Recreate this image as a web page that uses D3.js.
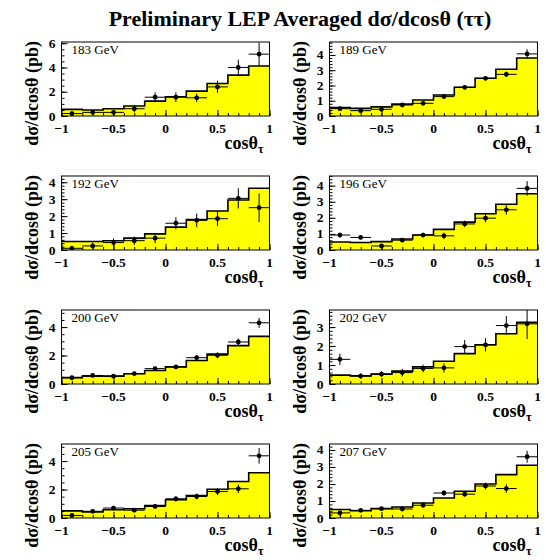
<!DOCTYPE html>
<html>
<head>
<meta charset="utf-8">
<script src="https://cdn.jsdelivr.net/npm/d3@7"></script>
<style>
  body { margin: 0; background: #fff; }
  text { font-family: "Liberation Serif", "DejaVu Serif", serif; }
</style>
</head>
<body>
<div id="chart"></div>
<script>
// bin edges of cos(theta_tau), 10 bins
const binEdges = [-1, -0.8, -0.6, -0.4, -0.2, 0, 0.2, 0.4, 0.6, 0.8, 1];
const binCenters = [-0.9, -0.7, -0.5, -0.3, -0.1, 0.1, 0.3, 0.5, 0.7, 0.9];
const xTicks = [-1, -0.5, 0, 0.5, 1];

const energies = ["183 GeV", "189 GeV", "192 GeV", "196 GeV", "200 GeV", "202 GeV", "205 GeV", "207 GeV"];
const yMax = [6.1, 4.85, 4.37, 4.6, 5.2, 3.9, 5.2, 4.35];
const yTickStep = [2, 1, 1, 1, 2, 1, 2, 1];

// SM prediction (yellow histogram)
const pred183 = [0.55, 0.5, 0.6, 0.82, 1.23, 1.59, 2.05, 2.68, 3.37, 4.12];
const pred189 = [0.55, 0.5, 0.6, 0.78, 1.05, 1.38, 1.88, 2.47, 3.06, 3.8];
const pred192 = [0.5, 0.5, 0.55, 0.7, 0.95, 1.35, 1.8, 2.3, 2.95, 3.65];
const pred196 = [0.5, 0.47, 0.52, 0.68, 0.93, 1.28, 1.73, 2.25, 2.84, 3.5];
const pred200 = [0.45, 0.55, 0.55, 0.72, 0.95, 1.2, 1.65, 2.1, 2.7, 3.35];
const pred202 = [0.47, 0.43, 0.52, 0.68, 0.9, 1.2, 1.6, 2.07, 2.65, 3.25];
const pred205 = [0.5, 0.42, 0.58, 0.65, 0.88, 1.28, 1.58, 2.02, 2.56, 3.18];
const pred207 = [0.5, 0.43, 0.55, 0.65, 0.88, 1.18, 1.57, 2.0, 2.55, 3.1];

// LEP averaged measurements
const meas183 = [0.2, 0.3, 0.3, 0.6, 1.55, 1.55, 1.5, 2.4, 4.0, 5.1];
const meas189 = [0.48, 0.35, 0.44, 0.72, 0.83, 1.27, 1.88, 2.47, 2.73, 4.07];
const meas192 = [0.1, 0.24, 0.44, 0.55, 0.7, 1.58, 1.75, 1.85, 3.05, 2.5];
const meas196 = [0.93, 0.78, 0.25, 0.61, 0.93, 0.88, 1.62, 1.98, 2.5, 3.83];
const meas200 = [0.44, 0.6, 0.55, 0.73, 1.08, 1.2, 1.85, 2.02, 2.95, 4.3];
const meas202 = [1.3, 0.42, 0.52, 0.6, 0.82, 0.85, 1.97, 2.06, 3.08, 3.17];
const meas205 = [0.18, 0.47, 0.7, 0.55, 0.81, 1.35, 1.51, 1.86, 2.05, 4.37];
const meas207 = [0.3, 0.45, 0.55, 0.53, 0.75, 1.47, 1.4, 1.88, 1.73, 3.6];

// errors on measurements
const err183 = [0.2, 0.2, 0.2, 0.3, 0.4, 0.4, 0.35, 0.5, 0.65, 0.95];
const err189 = [0.12, 0.1, 0.1, 0.12, 0.12, 0.12, 0.13, 0.15, 0.18, 0.3];
const err192 = [0.15, 0.2, 0.25, 0.25, 0.3, 0.35, 0.4, 0.45, 0.6, 0.85];
const err196 = [0.15, 0.12, 0.12, 0.12, 0.15, 0.2, 0.2, 0.25, 0.3, 0.45];
const err200 = [0.12, 0.12, 0.12, 0.12, 0.15, 0.15, 0.18, 0.2, 0.25, 0.35];
const err202 = [0.3, 0.15, 0.15, 0.2, 0.2, 0.25, 0.35, 0.35, 0.5, 0.8];
const err205 = [0.15, 0.12, 0.15, 0.15, 0.15, 0.2, 0.2, 0.25, 0.3, 0.55];
const err207 = [0.15, 0.1, 0.1, 0.12, 0.12, 0.15, 0.15, 0.2, 0.25, 0.35];

const preds = [pred183, pred189, pred192, pred196, pred200, pred202, pred205, pred207];
const meas = [meas183, meas189, meas192, meas196, meas200, meas202, meas205, meas207];
const errs = [err183, err189, err192, err196, err200, err202, err205, err207];

const W = 546, H = 560;
const colLeft = [61.5, 329.5];
const rowTop = [42, 176, 310, 444];
const pw = 208, ph = 74;

const svg = d3.select("#chart").append("svg")
  .attr("width", W).attr("height", H);

svg.append("text")
  .attr("x", 300).attr("y", 26)
  .attr("text-anchor", "middle")
  .attr("font-size", "22px")
  .attr("font-weight", "bold")
  .text("Preliminary LEP Averaged dσ/dcosθ (ττ)");

energies.forEach((label, k) => {
  const left = colLeft[k % 2];
  const top = rowTop[Math.floor(k / 2)];
  const g = svg.append("g").attr("transform", `translate(${left},${top})`);

  const x = d3.scaleLinear().domain([-1, 1]).range([0, pw]);
  const y = d3.scaleLinear().domain([0, yMax[k]]).range([ph, 0]);

  g.append("clipPath").attr("id", "clip" + k)
    .append("rect").attr("width", pw).attr("height", ph);

  // histogram: value held at each edge, last repeated
  const steps = binEdges.map((e, i) => ({ x: e, v: preds[k][Math.min(i, 9)] }));

  g.append("path")
    .datum(steps)
    .attr("fill", "#ffff00")
    .attr("d", d3.area().curve(d3.curveStepAfter)
      .x((d) => x(d.x)).y0(y(0)).y1((d) => y(d.v)));

  g.append("path")
    .datum(steps)
    .attr("fill", "none")
    .attr("stroke", "#000")
    .attr("stroke-width", 1.6)
    .attr("d", d3.line().curve(d3.curveStepAfter)
      .x((d) => x(d.x)).y((d) => y(d.v)));

  // data points with errors
  const pts = g.append("g").attr("clip-path", `url(#clip${k})`);
  binCenters.forEach((c, i) => {
    const v = meas[k][i], e = errs[k][i];
    pts.append("line")
      .attr("x1", x(c - 0.1)).attr("x2", x(c + 0.1))
      .attr("y1", y(v)).attr("y2", y(v))
      .attr("stroke", "#000").attr("stroke-width", 1);
    pts.append("line")
      .attr("x1", x(c)).attr("x2", x(c))
      .attr("y1", y(v - e)).attr("y2", y(v + e))
      .attr("stroke", "#000").attr("stroke-width", 1);
    pts.append("circle")
      .attr("cx", x(c)).attr("cy", y(v)).attr("r", 2.4)
      .attr("fill", "#000");
  });

  // frame
  g.append("rect")
    .attr("width", pw).attr("height", ph)
    .attr("fill", "none").attr("stroke", "#000").attr("stroke-width", 1);

  // x axis: ticks inside
  const xMinor = d3.range(-10, 11).map((i) => i / 10);
  g.append("g")
    .attr("transform", `translate(0,${ph})`)
    .call(d3.axisTop(x).tickValues(xMinor).tickSize(3).tickFormat(""))
    .call((a) => a.select(".domain").remove());
  g.append("g")
    .attr("transform", `translate(0,${ph})`)
    .call(d3.axisTop(x).tickValues(xTicks).tickSize(6).tickFormat(""))
    .call((a) => a.select(".domain").remove());
  g.selectAll(".xlab")
    .data(xTicks)
    .join("text")
    .attr("x", (d) => x(d))
    .attr("y", ph + 17)
    .attr("text-anchor", "middle")
    .attr("font-size", "13.5px")
    .attr("font-weight", "bold")
    .text((d) => d3.format("")(d));

  // y axis: ticks inside
  const step = yTickStep[k];
  const yMajor = d3.range(0, yMax[k] + 1e-9, step);
  const yMinor = d3.range(0, yMax[k] + 1e-9, step === 2 ? 0.5 : 0.2);
  g.append("g")
    .call(d3.axisRight(y).tickValues(yMinor).tickSize(3).tickFormat(""))
    .call((a) => a.select(".domain").remove());
  g.append("g")
    .call(d3.axisRight(y).tickValues(yMajor).tickSize(6).tickFormat(""))
    .call((a) => a.select(".domain").remove());
  g.selectAll(".ylab")
    .data(yMajor)
    .join("text")
    .attr("x", -6)
    .attr("y", (d) => y(d) + 4.5)
    .attr("text-anchor", "end")
    .attr("font-size", "13.5px")
    .attr("font-weight", "bold")
    .text((d) => d);

  // energy label
  g.append("text")
    .attr("x", 10).attr("y", 12)
    .attr("font-size", "13px")
    .text(label);

  // axis titles
  g.append("text")
    .attr("transform", `translate(-24,-1) rotate(-90)`)
    .attr("text-anchor", "end")
    .attr("font-size", "18px")
    .attr("font-weight", "bold")
    .text("dσ/dcosθ (pb)");

  const xt = g.append("text")
    .attr("x", pw - 6).attr("y", ph + 33)
    .attr("text-anchor", "end")
    .attr("font-size", "18px")
    .attr("font-weight", "bold")
    .text("cosθ");
  xt.append("tspan")
    .attr("dy", 4)
    .attr("font-size", "12px")
    .text("τ");
});
</script>
</body>
</html>
